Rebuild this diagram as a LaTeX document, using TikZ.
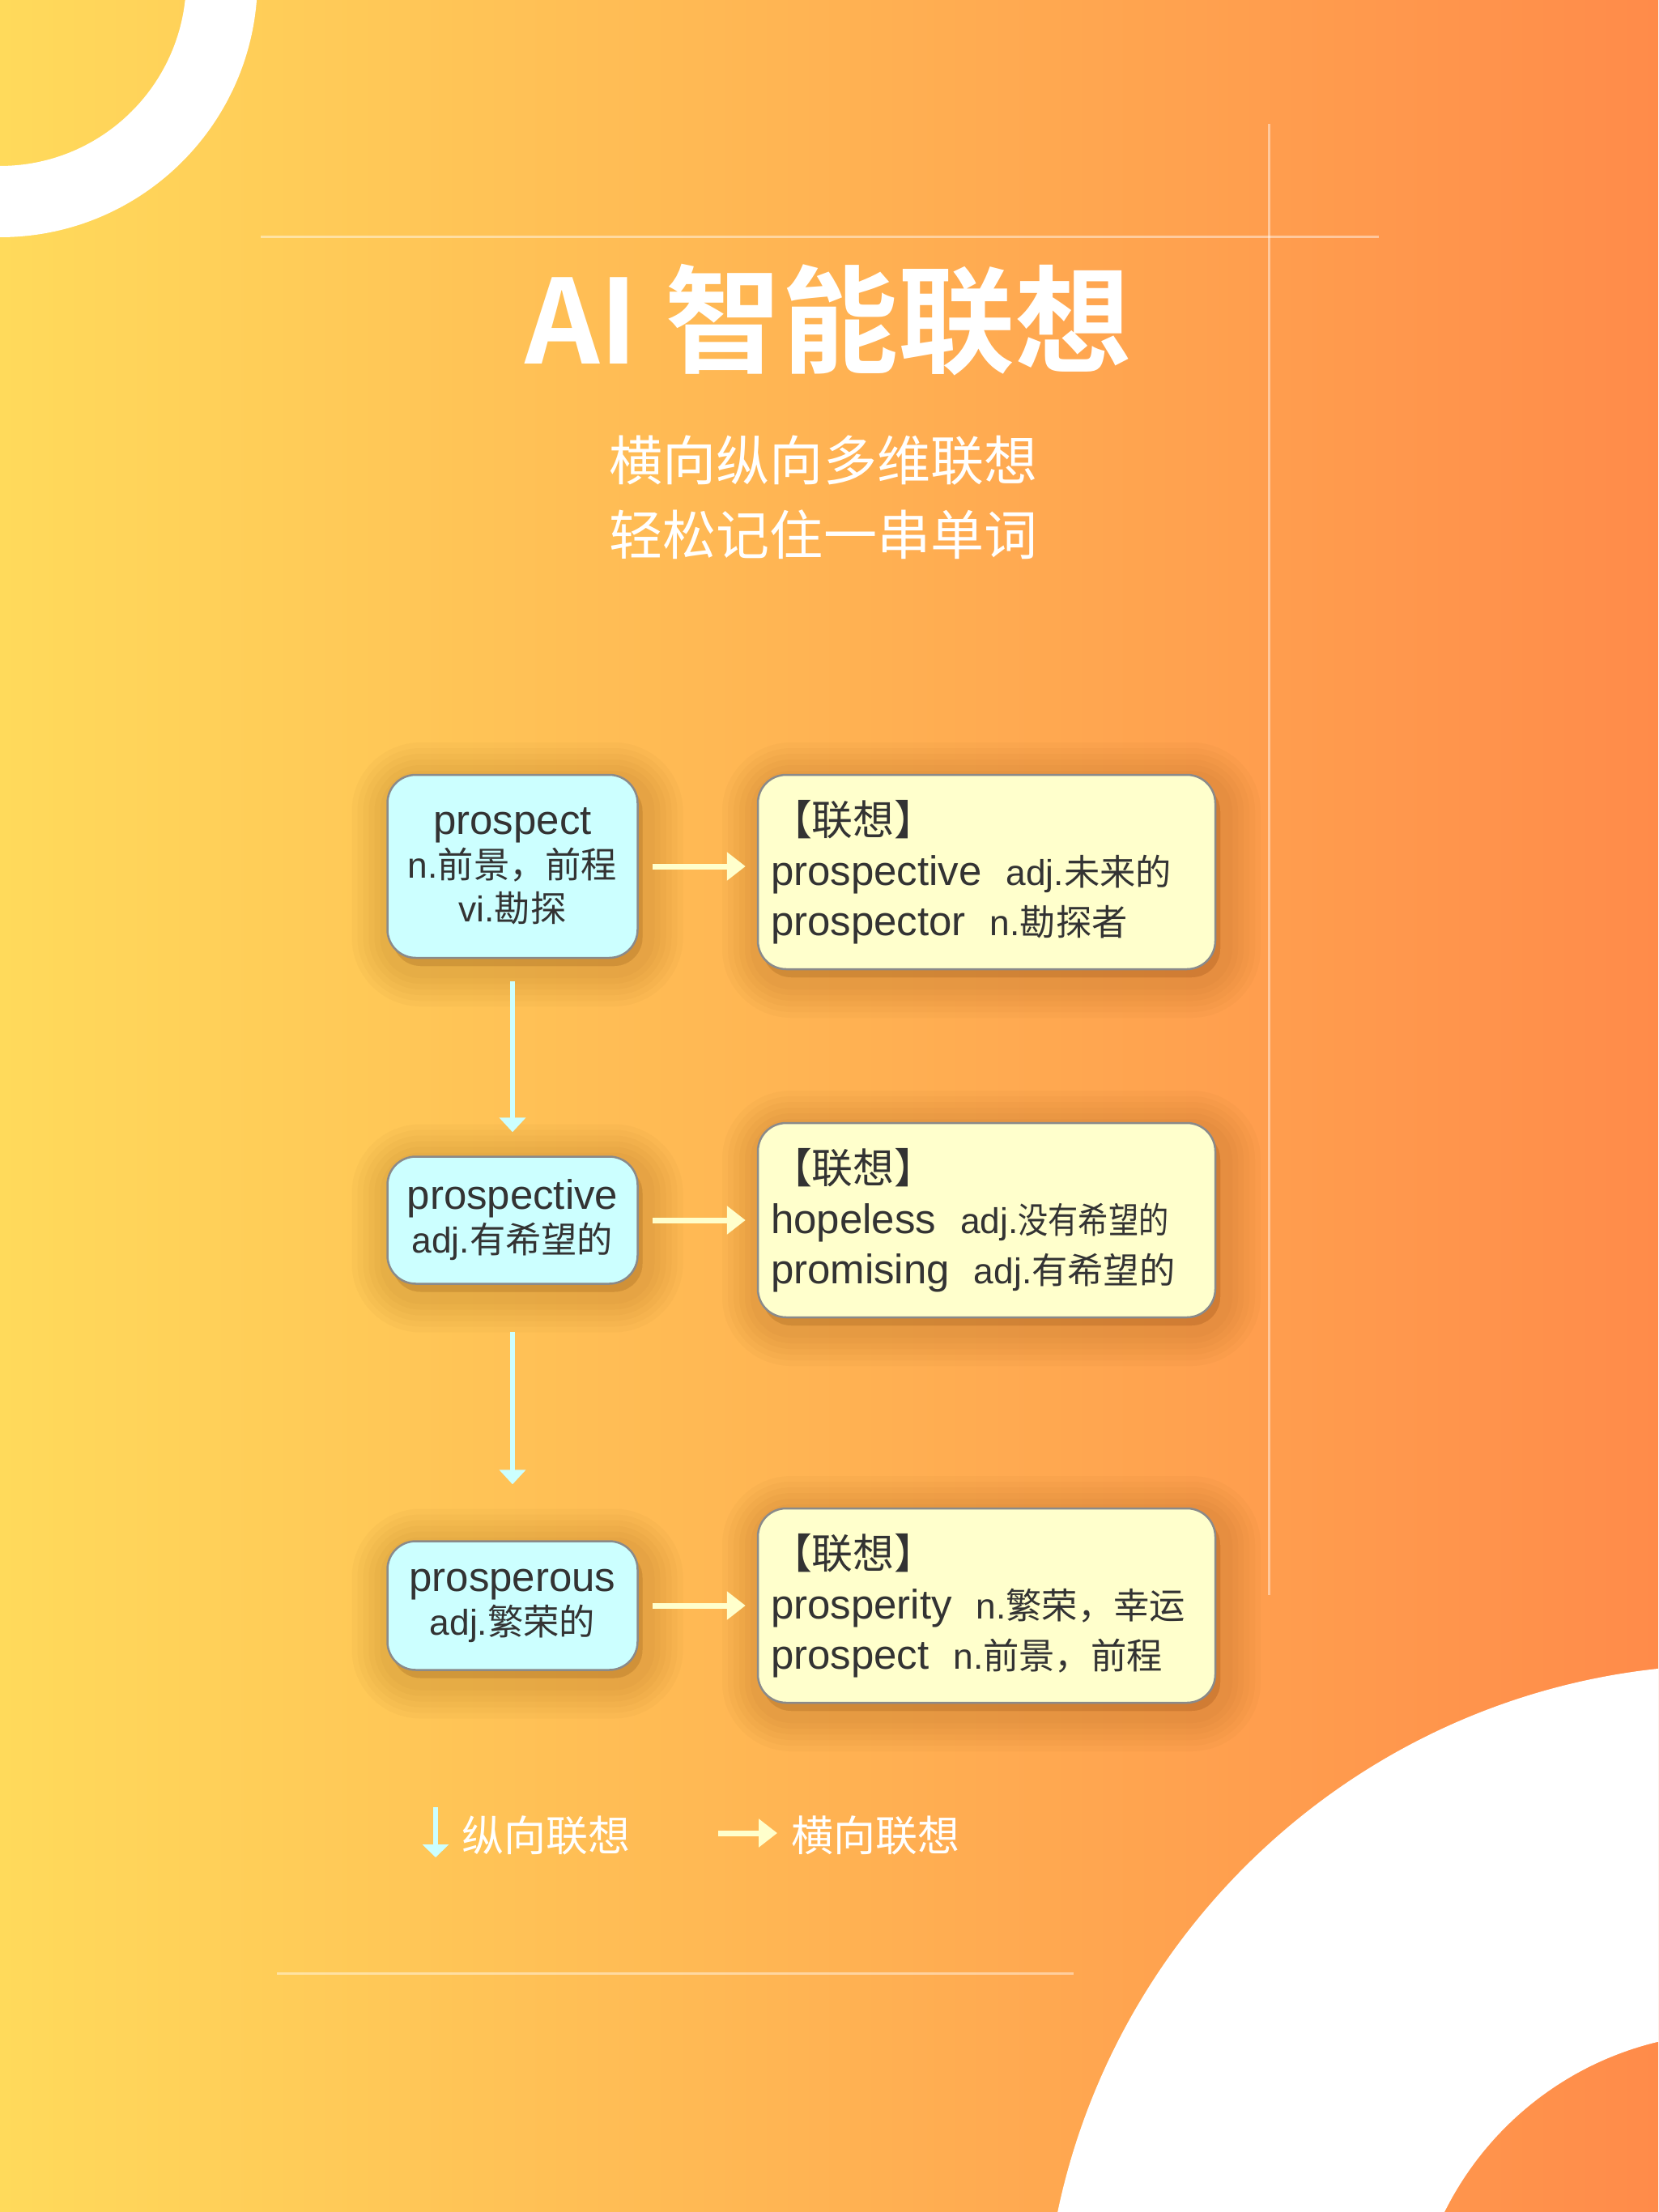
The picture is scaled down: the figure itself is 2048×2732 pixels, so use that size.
\documentclass[tikz,border=0pt]{standalone}
\usepackage{fontspec}
\setmainfont{Liberation Sans}
\newfontfamily\cjk{Noto Sans CJK SC}[BoldFont={Noto Sans CJK SC Bold}]
\usepackage{xcolor}
\usepackage{tikz}
\usetikzlibrary{arrows.meta,positioning}

\definecolor{bgleft}{HTML}{FFDA5B}
\definecolor{bgmid}{HTML}{FDB956}
\definecolor{bgright}{HTML}{FF8B4A}
\definecolor{cyanbox}{HTML}{CCFFFF}
\definecolor{creambox}{HTML}{FFFFCC}
\definecolor{boxline}{HTML}{8A8A8A}
\definecolor{ink}{HTML}{333333}
\definecolor{shade}{HTML}{6B3300}

\newcommand\zh[1]{{\cjk #1}}
\newcommand\gloss[1]{{\fontsize{12.6pt}{15pt}\selectfont #1}}
\newcommand\gap{\kern3mm}

\begin{document}
\begin{tikzpicture}[
    x=0.1mm, y=-0.1mm,%一个单位 = 一个像素
    halo/.style={
        preaction={fill=shade, draw=shade, opacity=.026, line width=#1,
          transform canvas={shift={(0.6mm,-1mm)}}}},
    lift/.style={% soft shadow, bottom right
        halo=10mm, halo=8.6mm, halo=7.2mm, halo=5.8mm,
        halo=4.4mm, halo=3mm},
    word/.style={
        % The shape:
        lift, rounded corners=3.5mm,
        minimum width=30.9mm,
        % The fill
        draw=boxline, line width=0.25mm, fill=cyanbox,
        % The fonts
        text=ink, align=center,
        font=\fontsize{14.5pt}{15.4pt}\selectfont},
    links/.style={
        % The shape:
        lift, rounded corners=3.5mm,
        minimum height=24mm, text width=53.3mm, inner xsep=1.6mm,
        % The fill
        draw=boxline, line width=0.25mm, fill=creambox,
        % The fonts
        text=ink, align=left,
        font=\fontsize{14.5pt}{17.6pt}\selectfont},
    hlink/.style={draw=creambox, line width=0.7mm,
        -{Triangle[length=2.3mm,width=3.4mm]},
        shorten <=1.7mm, shorten >=1.4mm},
    vlink/.style={draw=cyanbox, line width=0.6mm,
        -{Triangle[length=1.8mm,width=3.2mm]}},
    rule/.style={draw=white, opacity=.45, line width=0.3mm},
    legend/.style={text=white, inner sep=0pt,
        font=\cjk\fontsize{14.8pt}{16pt}\selectfont}
  ]
  % background
  \useasboundingbox (0,0) rectangle (2048,2732);
  \fill[left color=bgleft, middle color=bgmid, right color=bgright]
    (0,0) rectangle (2048,2732);
  \begin{scope}
    \clip (0,0) rectangle (2048,2732);
    \fill[white, even odd rule] (0,-25) circle (31.8mm) circle (23mm);
    \fill[white, even odd rule] (2140,2908) circle (85.2mm) circle (39.7mm);
  \end{scope}
  \draw[rule] (322,293) -- (1703,293);
  \draw[rule] (1567,153) -- (1567,1970);
  \draw[rule] (342,2437) -- (1326,2437);

  % title
  \node (title) [text=white, font=\cjk\bfseries\fontsize{41pt}{44pt}\selectfont]
    at (1023,395) {AI 智能联想};
  \node (subtitle) [text=white, align=center,
    font=\cjk\fontsize{18.8pt}{26.2pt}\selectfont]
    at (1017,614) {横向纵向多维联想\\轻松记住一串单词};

  % words
  \node (prospect) [word, minimum height=22.6mm] at (633,1070)
    {prospect\\\gloss{n.\zh{前景，前程}}\\\gloss{vi.\zh{勘探}}};
  \node (prospective) [word, minimum height=15.7mm] at (633,1507)
    {prospective\\\gloss{adj.\zh{有希望的}}};
  \node (prosperous) [word, minimum height=15.9mm] at (633,1983)
    {prosperous\\\gloss{adj.\zh{繁荣的}}};

  % links
  \node (prospect links) [links, right=14.6mm of prospect, yshift=-0.7mm]
    {\zh{【联想】}\\prospective\gap\gloss{adj.\zh{未来的}}\\
     prospector\gap\gloss{n.\zh{勘探者}}};
  \node (prospective links) [links, right=14.6mm of prospective]
    {\zh{【联想】}\\hopeless\gap\gloss{adj.\scalebox{0.84}[1]{\zh{没有希望的}}}\\
     promising\gap\gloss{adj.\zh{有希望的}}};
  \node (prosperous links) [links, right=14.6mm of prosperous]
    {\zh{【联想】}\\prosperity\gap\gloss{n.\zh{繁荣，幸运}}\\
     prospect\gap\gloss{n.\zh{前景，前程}}};

  \draw[hlink] (prospect.east) -- (prospect.east -| prospect links.west);
  \draw[hlink] (prospective) -- (prospective links);
  \draw[hlink] (prosperous) -- (prosperous links);
  \draw[vlink, shorten <=2.8mm, shorten >=2.9mm] (prospect) -- (prospective);
  \draw[vlink, shorten <=5.8mm, shorten >=6.9mm] (prospective) -- (prosperous);

  % legend
  \coordinate (down tail) at (538,2232);
  \coordinate (down head) at (538,2294);
  \coordinate (right tail) at (887,2264);
  \coordinate (right head) at (960,2264);
  \draw[vlink, -{Triangle[length=1.6mm,width=3.2mm]}] (down tail) -- (down head);
  \draw[hlink, shorten <=0pt, shorten >=0pt] (right tail) -- (right head);
  \node (down label) [legend, anchor=west] at (570,2267) {纵向联想};
  \node (right label) [legend, anchor=west] at (977,2267) {横向联想};
\end{tikzpicture}
\end{document}
